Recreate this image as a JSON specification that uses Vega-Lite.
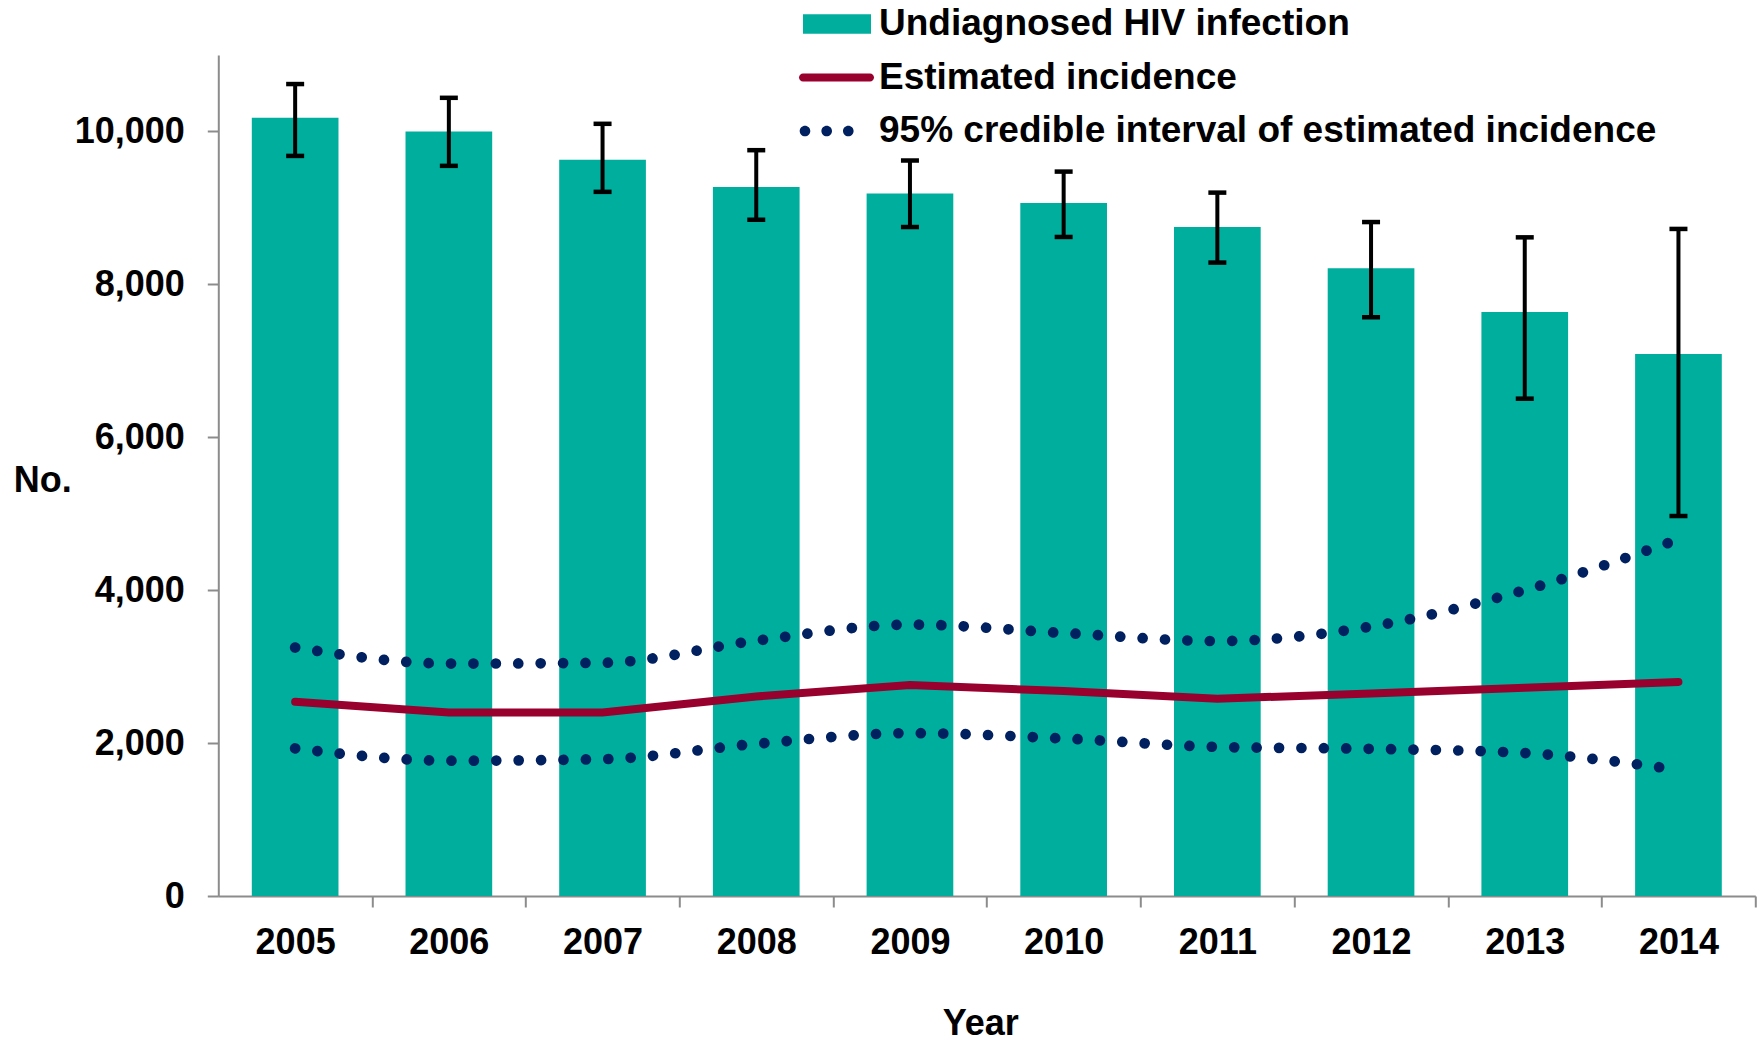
{
  "$schema": "https://vega.github.io/schema/vega-lite/v6.json",
  "width": 1537,
  "height": 841,
  "autosize": {"type": "none"},
  "padding": {"left": 218.3, "top": 55, "right": 7.7, "bottom": 145},
  "background": "white",
  "config": {
    "view": {"stroke": null},
    "font": "Liberation Sans",
    "axis": {
      "domainColor": "#8c8c8c",
      "domainWidth": 2,
      "tickColor": "#8c8c8c",
      "tickWidth": 2,
      "tickSize": 11,
      "grid": false,
      "labelFont": "Liberation Sans",
      "labelFontSize": 36,
      "labelFontWeight": "bold",
      "labelColor": "black",
      "titleFont": "Liberation Sans",
      "titleFontSize": 36,
      "titleFontWeight": "bold",
      "titleColor": "black"
    }
  },
  "data": {
    "values": [
      {"year": "2005", "undiag": 10180, "lo": 9680, "hi": 10620, "inc": 2540, "ciLo": 1930, "ciHi": 3250},
      {"year": "2006", "undiag": 10000, "lo": 9550, "hi": 10440, "inc": 2400, "ciLo": 1770, "ciHi": 3040},
      {"year": "2007", "undiag": 9630, "lo": 9210, "hi": 10100, "inc": 2400, "ciLo": 1790, "ciHi": 3050},
      {"year": "2008", "undiag": 9275, "lo": 8845, "hi": 9755, "inc": 2610, "ciLo": 1990, "ciHi": 3340},
      {"year": "2009", "undiag": 9190, "lo": 8750, "hi": 9620, "inc": 2760, "ciLo": 2130, "ciHi": 3550},
      {"year": "2010", "undiag": 9065, "lo": 8620, "hi": 9475, "inc": 2680, "ciLo": 2060, "ciHi": 3440},
      {"year": "2011", "undiag": 8750, "lo": 8285, "hi": 9200, "inc": 2580, "ciLo": 1950, "ciHi": 3335},
      {"year": "2012", "undiag": 8210, "lo": 7570, "hi": 8815, "inc": 2650, "ciLo": 1925, "ciHi": 3525},
      {"year": "2013", "undiag": 7637, "lo": 6505, "hi": 8615, "inc": 2725, "ciLo": 1870, "ciHi": 4000},
      {"year": "2014", "undiag": 7090, "lo": 4970, "hi": 8725, "inc": 2800, "ciLo": 1650, "ciHi": 4665}
    ]
  },
  "layer": [
    {
      "mark": {"type": "bar"},
      "encoding": {
        "x": {
          "field": "year", "type": "nominal",
          "scale": {"paddingInner": 0.436, "paddingOuter": 0.218},
          "axis": {
            "title": "Year", "labelAngle": 0, "labelPadding": 18, "labelOffset": -33.5,
            "bandPosition": 1, "tickExtra": false, "tickOffset": 33.5,
            "titleX": 762, "titleY": 138, "titleAlign": "center", "titleBaseline": "alphabetic"
          }
        },
        "y": {
          "field": "undiag", "type": "quantitative", "title": "No.",
          "scale": {"domain": [0, 11000], "nice": false},
          "axis": {
            "values": [0, 2000, 4000, 6000, 8000, 10000], "format": ",d", "labelPadding": 23,
            "titleAngle": 0, "titleAlign": "left", "titleBaseline": "middle", "titleX": -205, "titleY": 425
          }
        },
        "color": {
          "datum": "Undiagnosed HIV infection", "type": "nominal",
          "scale": {
            "domain": ["Undiagnosed HIV infection", "Estimated incidence", "95% credible interval of estimated incidence"],
            "range": ["#00AE9E", "#98002E", "#002060"]
          },
          "legend": {
            "orient": "none", "legendX": 580.7, "legendY": -51, "title": null, "padding": 0,
            "labelFont": "Liberation Sans", "labelFontSize": 37, "labelFontWeight": "bold", "labelColor": "black",
            "labelOffset": 40, "rowPadding": 15.5, "symbolSize": 1600, "symbolStrokeWidth": 0, "labelLimit": 1000,
            "encode": {
              "symbols": {
                "update": {
                  "shape": {"signal": "datum.value === 'Undiagnosed HIV infection' ? 'M-0.8,-0.485H2.6V0.485H-0.8Z' : datum.value === 'Estimated incidence' ? 'M-0.8,-0.2H2.55A0.2,0.2 0 0 1 2.55,0.2H-0.8A0.2,0.2 0 0 1 -0.8,-0.2Z' : 'M-0.965,0A0.265,0.265 0 1 0 -0.435,0A0.265,0.265 0 1 0 -0.965,0ZM0.12,0A0.265,0.265 0 1 0 0.65,0A0.265,0.265 0 1 0 0.12,0ZM1.2,0A0.265,0.265 0 1 0 1.73,0A0.265,0.265 0 1 0 1.2,0Z'"},
                  "fill": {"signal": "datum.value === 'Undiagnosed HIV infection' ? '#00AE9E' : datum.value === 'Estimated incidence' ? '#98002E' : '#002060'"},
                  "stroke": {"value": "transparent"},
                  "strokeWidth": {"value": 0},
                  "opacity": {"value": 1}
                }
              }
            }
          }
        }
      }
    },
    {
      "mark": {"type": "rule", "color": "black", "strokeWidth": 4},
      "encoding": {
        "x": {"field": "year", "type": "nominal"},
        "y": {"field": "lo", "type": "quantitative", "title": "No."},
        "y2": {"field": "hi"}
      }
    },
    {
      "mark": {"type": "tick", "color": "black", "size": 18, "thickness": 4.5, "opacity": 1},
      "encoding": {
        "x": {"field": "year", "type": "nominal"},
        "y": {"field": "lo", "type": "quantitative", "title": "No."}
      }
    },
    {
      "mark": {"type": "tick", "color": "black", "size": 18, "thickness": 4.5, "opacity": 1},
      "encoding": {
        "x": {"field": "year", "type": "nominal"},
        "y": {"field": "hi", "type": "quantitative", "title": "No."}
      }
    },
    {
      "mark": {"type": "line", "strokeWidth": 10.7, "strokeCap": "round", "strokeDash": [0.01, 22.4], "interpolate": "monotone"},
      "encoding": {
        "x": {"field": "year", "type": "nominal"},
        "y": {"field": "ciLo", "type": "quantitative", "title": "No."},
        "color": {"datum": "95% credible interval of estimated incidence", "type": "nominal"}
      }
    },
    {
      "mark": {"type": "line", "strokeWidth": 10.7, "strokeCap": "round", "strokeDash": [0.01, 22.4], "interpolate": "monotone"},
      "encoding": {
        "x": {"field": "year", "type": "nominal"},
        "y": {"field": "ciHi", "type": "quantitative", "title": "No."},
        "color": {"datum": "95% credible interval of estimated incidence", "type": "nominal"}
      }
    },
    {
      "mark": {"type": "line", "strokeWidth": 8, "strokeCap": "round"},
      "encoding": {
        "x": {"field": "year", "type": "nominal"},
        "y": {"field": "inc", "type": "quantitative", "title": "No."},
        "color": {"datum": "Estimated incidence", "type": "nominal"}
      }
    }
  ]
}
